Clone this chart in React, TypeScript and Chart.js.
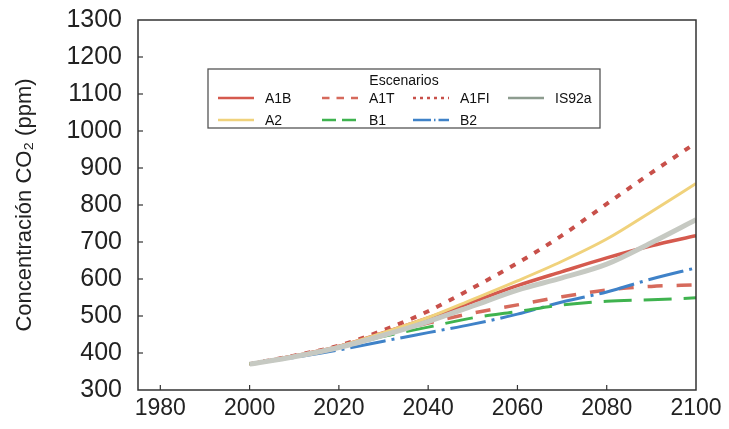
import React, { useEffect, useRef } from "react";
import { Chart, registerables } from "chart.js";

Chart.register(...registerables);

const years = [2000, 2010, 2020, 2030, 2040, 2050, 2060, 2070, 2080, 2090, 2100];
const A1B = [370, 392, 418, 455, 495, 538, 582, 620, 657, 690, 717];
const A1T = [370, 392, 418, 450, 481, 508, 530, 552, 570, 580, 584];
const A1FI = [370, 393, 420, 462, 513, 576, 643, 718, 803, 887, 968];
const IS92a = [370, 390, 415, 448, 485, 527, 570, 603, 640, 698, 760];
const A2 = [370, 392, 418, 455, 496, 545, 595, 648, 708, 782, 858];
const B1 = [370, 390, 414, 445, 470, 495, 512, 530, 540, 544, 549];
const B2 = [370, 388, 408, 432, 455, 478, 505, 538, 565, 600, 630];

const xTicks = [1980, 2000, 2020, 2040, 2060, 2080, 2100];
const yTicks = [300, 400, 500, 600, 700, 800, 900, 1000, 1100, 1200, 1300];

const legendTitle = "Escenarios";
const yTitle = "Concentración CO₂ (ppm)";

type Series = { label: string; data: number[]; color: string; legendColor: string; width: number; dash: number[] };

const series: Series[] = [
  { label: "IS92a", data: IS92a, color: "#c6c9c2", legendColor: "#8d9c8f", width: 5, dash: [] },
  { label: "A2", data: A2, color: "#f0d27c", legendColor: "#f0d27c", width: 3, dash: [] },
  { label: "B1", data: B1, color: "#3fb34f", legendColor: "#3fb34f", width: 3, dash: [28, 12] },
  { label: "B2", data: B2, color: "#3f82c8", legendColor: "#3f82c8", width: 3, dash: [36, 6, 3, 6] },
  { label: "A1T", data: A1T, color: "#d66a5c", legendColor: "#d66a5c", width: 3.5, dash: [15, 14] },
  { label: "A1B", data: A1B, color: "#d55a4e", legendColor: "#d55a4e", width: 3.5, dash: [] },
  { label: "A1FI", data: A1FI, color: "#c8504a", legendColor: "#c8504a", width: 4, dash: [6, 8] },
];

const legendRows = [
  ["A1B", "A1T", "A1FI", "IS92a"],
  ["A2", "B1", "B2"],
];

const framePlugin = {
  id: "frame",
  afterDraw(chart: any) {
    const { ctx, chartArea: a, scales } = chart;
    ctx.save();
    ctx.strokeStyle = "#333";
    ctx.lineWidth = 1.5;
    ctx.setLineDash([]);
    ctx.strokeRect(a.left, a.top, a.right - a.left, a.bottom - a.top);
    ctx.lineWidth = 1.2;
    for (const v of xTicks) {
      const x = scales.x.getPixelForValue(v);
      if (x <= a.left + 1 || x >= a.right - 1) continue;
      ctx.beginPath();
      ctx.moveTo(x, a.bottom);
      ctx.lineTo(x, a.bottom - 5);
      ctx.stroke();
    }
    for (const v of yTicks) {
      const y = scales.y.getPixelForValue(v);
      if (y <= a.top + 1 || y >= a.bottom - 1) continue;
      ctx.beginPath();
      ctx.moveTo(a.left, y);
      ctx.lineTo(a.left + 5, y);
      ctx.stroke();
    }
    // legend
    const bx = 208, by = 69, bw = 392, bh = 59;
    ctx.fillStyle = "#fff";
    ctx.fillRect(bx, by, bw, bh);
    ctx.strokeStyle = "#555";
    ctx.lineWidth = 1.3;
    ctx.strokeRect(bx, by, bw, bh);
    ctx.fillStyle = "#111";
    ctx.font = "14px 'Liberation Sans', Arial, sans-serif";
    ctx.textAlign = "center";
    ctx.textBaseline = "middle";
    ctx.fillText(legendTitle, 404, 81);
    const colX = [218, 322, 413, 508];
    const rowY = [98, 120];
    ctx.textAlign = "left";
    legendRows.forEach((row, ri) => {
      row.forEach((name, ci) => {
        const s = series.find((q) => q.label === name)!;
        const x0 = colX[ci];
        const y = rowY[ri];
        ctx.strokeStyle = s.legendColor;
        ctx.lineWidth = Math.min(s.width, 2.5);
        const d = s.dash.length ? s.dash.map((v) => v * 0.5) : [];
        ctx.setLineDash(d);
        ctx.beginPath();
        ctx.moveTo(x0, y);
        ctx.lineTo(x0 + 36, y);
        ctx.stroke();
        ctx.setLineDash([]);
        ctx.fillStyle = "#111";
        ctx.fillText(name, x0 + 47, y + 1);
      });
    });
    ctx.restore();
  },
};

export default function App() {
  const ref = useRef<HTMLCanvasElement>(null);
  useEffect(() => {
    if (!ref.current) return;
    const chart = new Chart(ref.current, {
      type: "line",
      data: {
        datasets: series.map((s) => ({
          label: s.label,
          data: years.map((y, i) => ({ x: y, y: s.data[i] })),
          borderColor: s.color,
          backgroundColor: s.color,
          borderWidth: s.width,
          borderDash: s.dash,
          pointRadius: 0,
          cubicInterpolationMode: "monotone" as const,
          fill: false,
        })),
      },
      options: {
        responsive: false,
        animation: false,
        devicePixelRatio: 1,
        layout: { padding: { top: 20, right: 33, bottom: 0, left: 0 } },
        plugins: { legend: { display: false }, tooltip: { enabled: false } },
        scales: {
          x: {
            type: "linear",
            min: 1975,
            max: 2100,
            grid: { display: false, drawTicks: false },
            border: { display: false },
            afterBuildTicks: (scale: any) => {
              scale.ticks = xTicks.map((v) => ({ value: v }));
            },
            afterFit: (scale: any) => {
              scale.height = 39;
              scale.paddingLeft = 0;
              scale.paddingRight = 0;
            },
            ticks: {
              padding: 5,
              color: "#222",
              maxRotation: 0,
              autoSkip: false,
              font: { family: "'Liberation Sans', Arial, sans-serif", size: 23 },
              callback: (v: any) => String(v),
            },
          },
          y: {
            min: 300,
            max: 1300,
            grid: { display: false, drawTicks: false },
            border: { display: false },
            afterBuildTicks: (scale: any) => {
              scale.ticks = yTicks.map((v) => ({ value: v }));
            },
            afterFit: (scale: any) => {
              scale.width = 138;
              scale.paddingTop = 0;
              scale.paddingBottom = 0;
            },
            ticks: {
              padding: 16,
              color: "#222",
              autoSkip: false,
              font: { family: "'Liberation Sans', Arial, sans-serif", size: 25 },
              callback: (v: any) => String(v),
            },
            title: {
              display: true,
              text: yTitle,
              color: "#222",
              font: { family: "'Liberation Sans', Arial, sans-serif", size: 22 },
              padding: { top: 12, bottom: 0 },
            },
          },
        },
      },
      plugins: [framePlugin],
    });
    return () => chart.destroy();
  }, []);
  return (
    <div style={{ position: "fixed", left: 0, top: 0, width: 729, height: 429, background: "#fff" }}>
      <canvas ref={ref} width={729} height={429} style={{ display: "block" }} />
    </div>
  );
}
